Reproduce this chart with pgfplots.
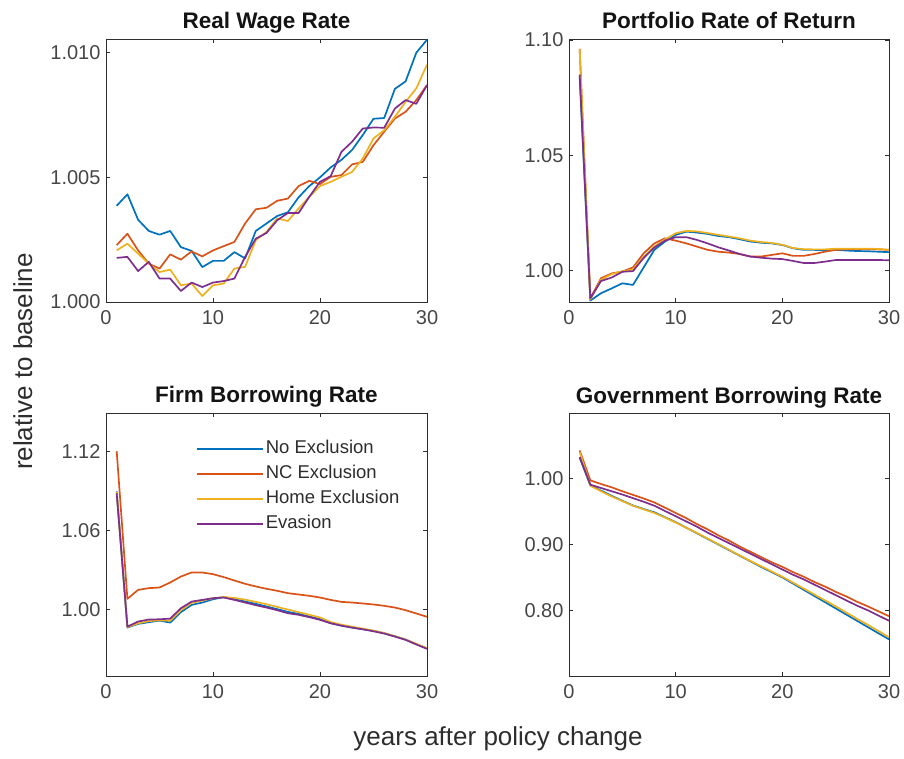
\documentclass[border=0pt]{standalone}
\usepackage{fontspec}
\setmainfont{Liberation Sans}
\setsansfont{Liberation Sans}
\usepackage{pgfplots}
\usepackage{pgfplotstable}
\pgfplotsset{compat=1.18}

\definecolor{mblue}{RGB}{0,114,189}
\definecolor{mred}{RGB}{217,83,25}
\definecolor{myellow}{RGB}{237,177,32}
\definecolor{mpurple}{RGB}{126,47,142}
\definecolor{axisgray}{RGB}{45,45,45}
\definecolor{labelgray}{RGB}{70,70,70}
\definecolor{titleblack}{RGB}{20,20,20}

% t = years after policy change; columns: no exclusion, NC exclusion, home exclusion, evasion
\pgfplotstableread{
t noex nc home eva
1  1.00386 1.00228 1.00207 1.00177
2  1.00432 1.00274 1.00234 1.00181
3  1.00330 1.00207 1.00194 1.00124
4  1.00285 1.00154 1.00154 1.00161
5  1.00270 1.00134 1.00120 1.00094
6  1.00285 1.00191 1.00130 1.00094
7  1.00220 1.00170 1.00067 1.00044
8  1.00205 1.00203 1.00074 1.00078
9  1.00140 1.00183 1.00024 1.00060
10 1.00165 1.00207 1.00067 1.00078
11 1.00165 1.00224 1.00074 1.00084
12 1.00200 1.00241 1.00134 1.00094
13 1.00175 1.00315 1.00141 1.00181
14 1.00285 1.00372 1.00248 1.00254
15 1.00315 1.00378 1.00281 1.00277
16 1.00345 1.00406 1.00335 1.00328
17 1.00360 1.00415 1.00325 1.00357
18 1.00420 1.00465 1.00375 1.00357
19 1.00465 1.00486 1.00422 1.00422
20 1.00500 1.00473 1.00465 1.00482
21 1.00540 1.00502 1.00482 1.00505
22 1.00570 1.00509 1.00502 1.00602
23 1.00610 1.00552 1.00522 1.00643
24 1.00670 1.00562 1.00576 1.00696
25 1.00735 1.00629 1.00656 1.00700
26 1.00738 1.00683 1.00689 1.00699
27 1.00855 1.00736 1.00743 1.00776
28 1.00885 1.00763 1.00803 1.00810
29 1.01000 1.00810 1.00857 1.00795
30 1.01052 1.00870 1.00952 1.00870
}\tabwage

\pgfplotstableread{
t noex nc home eva
1  1.0841 1.0961 1.0961 1.0850
2  0.9870 0.9880 0.9875 0.9880
3  0.9902 0.9967 0.9960 0.9955
4  0.9923 0.9988 0.9985 0.9970
5  0.9945 0.9996 0.9997 0.9995
6  0.9938 1.0014 1.0005 0.9998
7  1.0014 1.0075 1.0060 1.0055
8  1.0090 1.0118 1.0105 1.0100
9  1.0126 1.0140 1.0135 1.0130
10 1.0155 1.0130 1.0162 1.0145
11 1.0169 1.0118 1.0172 1.0145
12 1.0165 1.0104 1.0170 1.0133
13 1.0159 1.0090 1.0163 1.0118
14 1.0150 1.0082 1.0155 1.0101
15 1.0145 1.0078 1.0148 1.0087
16 1.0136 1.0072 1.0140 1.0072
17 1.0126 1.0061 1.0130 1.0061
18 1.0121 1.0061 1.0124 1.0056
19 1.0118 1.0068 1.0120 1.0052
20 1.0111 1.0075 1.0112 1.0050
21 1.0097 1.0064 1.0098 1.0042
22 1.0090 1.0064 1.0093 1.0033
23 1.0090 1.0072 1.0092 1.0033
24 1.0087 1.0082 1.0092 1.0039
25 1.0090 1.0090 1.0095 1.0046
26 1.0087 1.0092 1.0095 1.0046
27 1.0085 1.0092 1.0095 1.0046
28 1.0084 1.0092 1.0095 1.0046
29 1.0082 1.0092 1.0094 1.0046
30 1.0080 1.0090 1.0090 1.0045
}\tabport

\pgfplotstableread{
t noex nc home eva
1  1.0896 1.1200 1.0890 1.0880
2  0.9863 1.0081 0.9866 0.9870
3  0.9891 1.0149 0.9895 0.9909
4  0.9904 1.0162 0.9912 0.9924
5  0.9916 1.0167 0.9918 0.9926
6  0.9901 1.0205 0.9915 0.9931
7  0.9980 1.0250 0.9995 1.0010
8  1.0035 1.0281 1.0050 1.0060
9  1.0053 1.0281 1.0068 1.0073
10 1.0078 1.0268 1.0085 1.0086
11 1.0094 1.0246 1.0095 1.0091
12 1.0078 1.0220 1.0088 1.0073
13 1.0061 1.0195 1.0075 1.0053
14 1.0043 1.0175 1.0058 1.0033
15 1.0023 1.0157 1.0040 1.0015
16 1.0003 1.0142 1.0020 0.9995
17 0.9982 1.0124 1.0000 0.9972
18 0.9967 1.0114 0.9980 0.9960
19 0.9947 1.0104 0.9960 0.9942
20 0.9927 1.0091 0.9940 0.9922
21 0.9896 1.0073 0.9905 0.9896
22 0.9878 1.0058 0.9885 0.9878
23 0.9863 1.0053 0.9870 0.9863
24 0.9851 1.0046 0.9855 0.9850
25 0.9838 1.0038 0.9840 0.9835
26 0.9820 1.0028 0.9822 0.9818
27 0.9797 1.0015 0.9798 0.9795
28 0.9772 0.9995 0.9773 0.9770
29 0.9738 0.9970 0.9740 0.9735
30 0.9705 0.9945 0.9707 0.9702
}\tabfirm

\pgfplotstableread{
t noex nc home eva
1  1.0320 1.0430 1.0410 1.0330
2  0.9900 0.9975 0.9895 0.9910
3  0.9820 0.9920 0.9810 0.9860
4  0.9740 0.9870 0.9730 0.9810
5  0.9665 0.9810 0.9660 0.9760
6  0.9594 0.9755 0.9590 0.9705
7  0.9540 0.9700 0.9535 0.9650
8  0.9490 0.9640 0.9480 0.9590
9  0.9415 0.9560 0.9410 0.9510
10 0.9340 0.9480 0.9335 0.9430
11 0.9255 0.9400 0.9255 0.9350
12 0.9170 0.9310 0.9175 0.9270
13 0.9085 0.9230 0.9090 0.9180
14 0.9000 0.9140 0.9005 0.9100
15 0.8915 0.9060 0.8920 0.9020
16 0.8830 0.8970 0.8835 0.8940
17 0.8745 0.8890 0.8750 0.8860
18 0.8660 0.8810 0.8670 0.8780
19 0.8580 0.8730 0.8590 0.8700
20 0.8500 0.8660 0.8510 0.8620
21 0.8406 0.8580 0.8420 0.8540
22 0.8311 0.8510 0.8330 0.8470
23 0.8217 0.8430 0.8240 0.8390
24 0.8123 0.8360 0.8150 0.8310
25 0.8028 0.8280 0.8060 0.8230
26 0.7934 0.8210 0.7965 0.8150
27 0.7840 0.8130 0.7870 0.8070
28 0.7745 0.8060 0.7780 0.8000
29 0.7651 0.7985 0.7685 0.7920
30 0.7557 0.7910 0.7590 0.7840
}\tabgov

\pgfplotsset{
  panel/.style={
    scale only axis,
    anchor=south west,
    xmin=0, xmax=30,
    xtick={0,10,20,30},
    tick align=inside,
    tick pos=both,
    major tick length=4pt,
    axis line style={draw=axisgray, line width=0.8pt},
    every tick/.style={draw=axisgray, line width=0.8pt},
    ticklabel style={font=\fontsize{20}{24}\selectfont, text=labelgray},
    xticklabel style={yshift=-5pt},
    yticklabel style={xshift=-2pt},
    /pgf/number format/assume math mode=true,
    title style={font=\fontsize{22.5}{26}\selectfont\bfseries, text=titleblack,
                 at={(0.5,1)}, anchor=base, yshift=4pt},
    every axis plot/.append style={line width=1.7pt, line join=round},
    cycle list={{mblue},{mred},{myellow},{mpurple}},
  },
}

\begin{document}
\begin{tikzpicture}
\path[use as bounding box] (0pt,0pt) rectangle (904pt,758pt);

% Real wage rate
\begin{axis}[panel, at={(106pt,456pt)}, width=321pt, height=263pt,
  title={Real Wage Rate},
  ymin=1.000, ymax=1.01055,
  ytick={1.000,1.005,1.010},
  yticklabel style={/pgf/number format/.cd, fixed, fixed zerofill, precision=3}]
  \addplot table[x=t, y=noex] {\tabwage};
  \addplot table[x=t, y=nc]   {\tabwage};
  \addplot table[x=t, y=home] {\tabwage};
  \addplot table[x=t, y=eva]  {\tabwage};
\end{axis}

% Portfolio rate of return
\begin{axis}[panel, at={(569pt,456pt)}, width=320pt, height=263pt,
  title={Portfolio Rate of Return},
  ymin=0.9864, ymax=1.1004,
  ytick={1.00,1.05,1.10},
  yticklabel style={/pgf/number format/.cd, fixed, fixed zerofill, precision=2}]
  \addplot table[x=t, y=noex] {\tabport};
  \addplot table[x=t, y=nc]   {\tabport};
  \addplot table[x=t, y=home] {\tabport};
  \addplot table[x=t, y=eva]  {\tabport};
\end{axis}

% Firm borrowing rate
\begin{axis}[panel, at={(106pt,82pt)}, width=321pt, height=263pt,
  title={Firm Borrowing Rate},
  ymin=0.9496, ymax=1.149,
  ytick={1.00,1.06,1.12},
  yticklabel style={/pgf/number format/.cd, fixed, fixed zerofill, precision=2},
  legend cell align=left,
  legend style={draw=none, fill=none, inner sep=0pt,
    at={(rel axis cs:0.28,0.904)}, anchor=north west,
    font=\fontsize{18.5}{22}\selectfont, text=axisgray,
    row sep=4pt,
    nodes={inner sep=2pt, text height=13pt, text depth=4pt}},
  legend image post style={line width=1.7pt},
  legend image code/.code={\draw[line width=1.7pt, #1] (0pt,0pt) -- (66pt,0pt);}]
  \addplot table[x=t, y=noex] {\tabfirm};
  \addlegendentry{No Exclusion}
  \addplot table[x=t, y=nc]   {\tabfirm};
  \addlegendentry{NC Exclusion}
  \addplot table[x=t, y=home] {\tabfirm};
  \addlegendentry{Home Exclusion}
  \addplot table[x=t, y=eva]  {\tabfirm};
  \addlegendentry{Evasion}
\end{axis}

% Government borrowing rate
\begin{axis}[panel, at={(569pt,82pt)}, width=320pt, height=263pt,
  title={Government Borrowing Rate},
  ymin=0.70, ymax=1.10,
  ytick={0.80,0.90,1.00},
  yticklabel style={/pgf/number format/.cd, fixed, fixed zerofill, precision=2}]
  \addplot table[x=t, y=noex] {\tabgov};
  \addplot table[x=t, y=nc]   {\tabgov};
  \addplot table[x=t, y=home] {\tabgov};
  \addplot table[x=t, y=eva]  {\tabgov};
\end{axis}

% shared axis labels
\node[rotate=90, anchor=base, text=axisgray, font=\fontsize{26}{30}\selectfont]
  at (32pt,396.5pt) {relative to baseline};
\node[anchor=base, text=axisgray, font=\fontsize{26}{30}\selectfont]
  at (498pt,13pt) {years after policy change};
\end{tikzpicture}
\end{document}
